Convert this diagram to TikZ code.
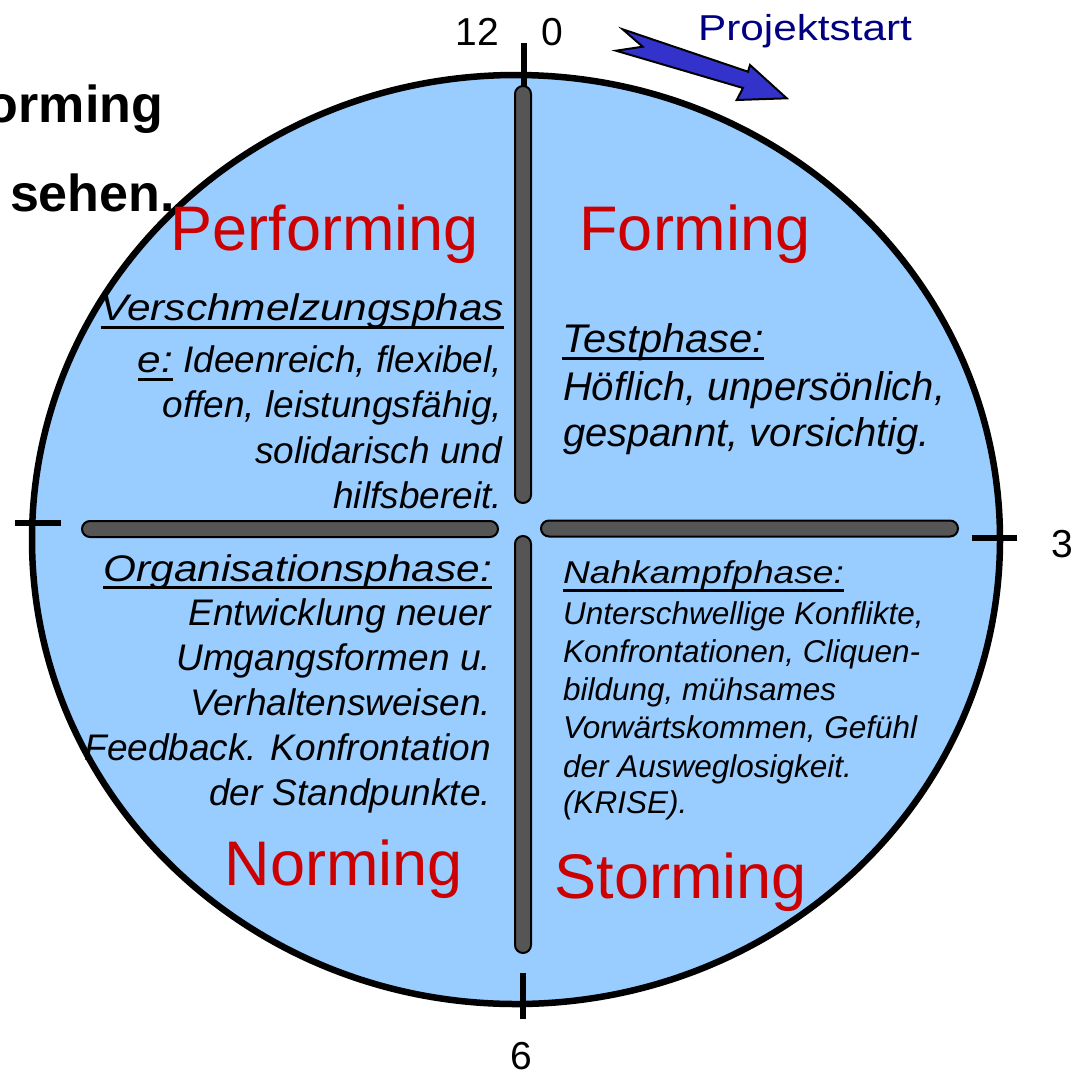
\documentclass[tikz,border=0pt]{standalone}
\usepackage{fontspec}
\setmainfont{Liberation Sans}
\usepackage{graphicx}

\definecolor{discblue}{HTML}{99CCFF}
\definecolor{phasered}{HTML}{CC0000}
\definecolor{bargray}{HTML}{555555}
\definecolor{arrowblue}{HTML}{3333CC}
\definecolor{startnavy}{HTML}{000080}

\begin{document}
\begin{tikzpicture}[x=1pt,y=-1pt,
  txt/.style={inner sep=0pt, outer sep=0pt},
  phase/.style={txt, text=phasered, font=\fontsize{63}{63}\selectfont, anchor=base},
  hour/.style={txt, font=\fontsize{39}{39}\selectfont, anchor=base},
  slidetxt/.style={txt, font=\fontsize{52}{52}\selectfont\bfseries},
  leftA/.style={txt, font=\fontsize{37}{37}\selectfont\itshape, anchor=base east},
  rightA/.style={txt, font=\fontsize{40}{40}\selectfont\itshape, anchor=base west},
  rightB/.style={txt, font=\fontsize{31.5}{31.5}\selectfont\itshape, anchor=base west},
  uline/.style={line width=2.5pt},
  tickmark/.style={line width=5.5pt},
  barshape/.style={fill=bargray, draw=black, line width=2pt, rounded corners=8pt},
]
\useasboundingbox (0,0) rectangle (1076,1072);

% slide text lying behind the disc
\node[slidetxt, anchor=base east] (bgA) at (163,122) {orming};
\node[slidetxt, anchor=base west] (bgB) at (10,211) {sehen.};

% the disc
\filldraw[fill=discblue, draw=black, line width=6.5pt] (516,539.5) ellipse [x radius=484, y radius=464.5];

% clock ticks
\draw[tickmark] (524,43) -- (524,86);
\draw[tickmark] (523,973) -- (523,1019);
\draw[tickmark] (15,523) -- (61,523);
\draw[tickmark] (972,538) -- (1017,538);

% dividing bars
\filldraw[barshape] (515,86) rectangle (531,503);
\filldraw[barshape] (515,536) rectangle (531,953);
\filldraw[barshape] (82,521) rectangle (498,537);
\filldraw[barshape] (541,520.5) rectangle (958,536.5);

% hour labels
\node[hour] (h12) at (477,45) {12};
\node[hour] (h0) at (552,45) {0};
\node[hour] (h3) at (1062,557) {3};
\node[hour] (h6) at (521,1069) {6};

% start arrow
\filldraw[fill=arrowblue, draw=black, line width=2pt, line join=miter]
  (622.7,29.3) -- (748,71.7) -- (750,65) -- (786.7,98.3) -- (736.7,100)
  -- (743,88) -- (616,50.7) -- (642.7,46.7) -- cycle;
\node[txt, text=startnavy, font=\fontsize{36}{36}\selectfont, anchor=base] (start) at (805,40) {\scalebox{1.175}[1]{Projektstart}};

% phase names
\node[phase] (perf) at (325,250) {Performing};
\node[phase] (form) at (695,250) {Forming};
\node[phase] (norm) at (344,885) {Norming};
\node[phase] (storm) at (681,898) {Storming};

% upper left quadrant
\node[leftA] (vsHead) at (504,320) {\scalebox{1.145}[1]{Verschmelzungsphas}};
\node[leftA] (vsL2) at (502,372) {Ideenreich, flexibel,};
\node[leftA] (vsL2e) at ([xshift=-10pt]vsL2.base west) {\scalebox{1.145}[1]{e:}};
\node[leftA] (vsL3) at (502,417) {offen, leistungsfähig,};
\node[leftA] (vsL4) at (502,463) {solidarisch und};
\node[leftA] (vsL5) at (502,508) {hilfsbereit.};
\draw[uline] ([yshift=-7.5pt]vsHead.base west) -- ([yshift=-7.5pt]vsHead.base east);
\draw[uline] ([yshift=-7.5pt]vsL2e.base west) -- ([yshift=-7.5pt]vsL2e.base east);

% lower left quadrant
\node[leftA] (orHead) at (492,581) {\scalebox{1.145}[1]{Organisationsphase:}};
\node[leftA] (orL2) at (491,625) {Entwicklung neuer};
\node[leftA] (orL3) at (491,670) {Umgangsformen u.};
\node[leftA] (orL4) at (491,715) {Verhaltensweisen.};
\node[leftA] (orL5) at (491,760) {Feedback. Konfrontation};
\node[leftA] (orL6) at (491,805) {der Standpunkte.};
\draw[uline] ([yshift=-6.5pt]orHead.base west) -- ([yshift=-6.5pt]orHead.base east);

% upper right quadrant
\node[rightA] (tpHead) at (562,352) {\scalebox{1.04}[1]{Testphase:}};
\node[rightA] (tpL2) at (563,400) {Höflich, unpersönlich,};
\node[rightA] (tpL3) at (563,446) {gespannt, vorsichtig.};
\draw[uline] ([yshift=-6.5pt]tpHead.base west) -- ([yshift=-6.5pt]tpHead.base east);

% lower right quadrant
\node[rightB] (nkHead) at (563,583) {\scalebox{1.18}[1]{Nahkampfphase:}};
\node[rightB] (nkL2) at (563,624) {Unterschwellige Konflikte,};
\node[rightB] (nkL3) at (563,662) {Konfrontationen, Cliquen-};
\node[rightB] (nkL4) at (563,700) {bildung, mühsames};
\node[rightB] (nkL5) at (563,738) {Vorwärtskommen, Gefühl};
\node[rightB] (nkL6) at (563,777) {der Ausweglosigkeit.};
\node[rightB] (nkL7) at (563,813) {(KRISE).};
\draw[uline] ([yshift=-7.5pt]nkHead.base west) -- ([yshift=-7.5pt]nkHead.base east);
\end{tikzpicture}
\end{document}
